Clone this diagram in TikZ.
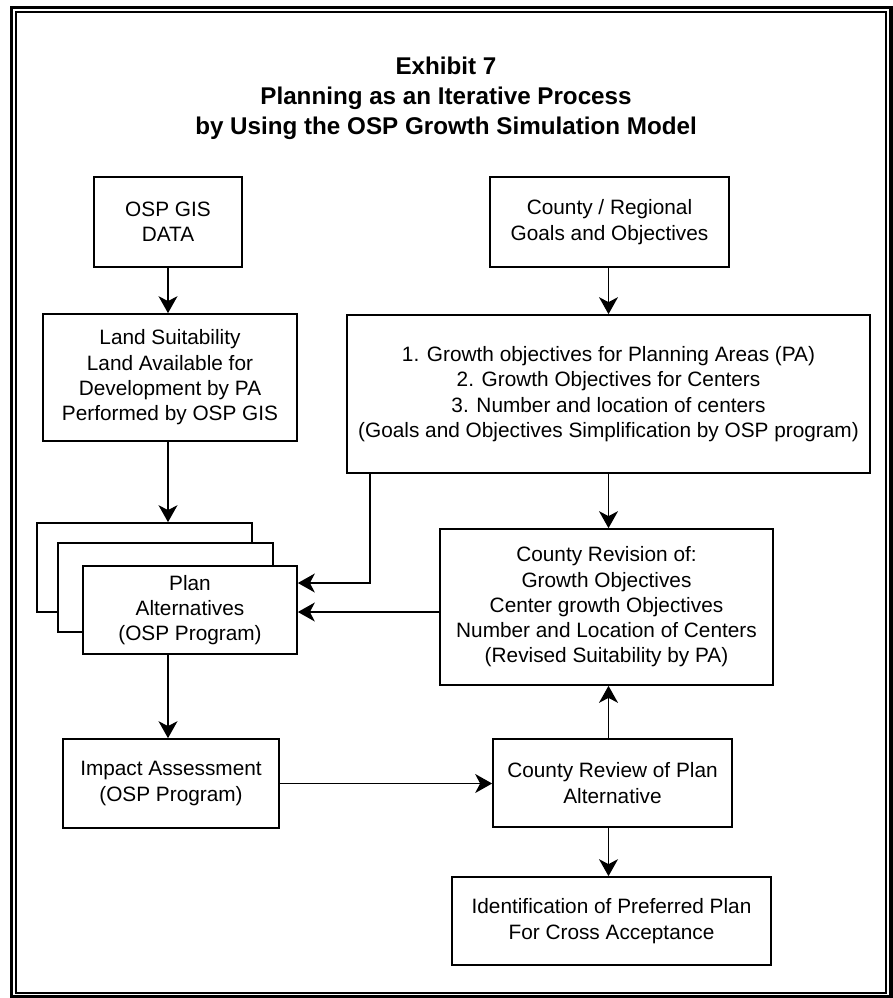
\documentclass[tikz,border=0pt]{standalone}
\usepackage{fontspec}
\setmainfont{Liberation Sans}
\usetikzlibrary{arrows.meta,calc}
\begin{document}
\begin{tikzpicture}[x=1pt,y=-1pt,
  bx/.style={draw, line width=1.7pt, fill=white, align=center, inner sep=0pt,
    font=\fontsize{20.8}{25.3}\selectfont},
  arr/.style={line width=1.5pt, -{Stealth[length=17pt,width=19pt,inset=5pt]}},
  ln/.style={line width=1.5pt}]
\useasboundingbox (0,0) rectangle (893,998);
% frame
\draw[line width=3.3pt] (11.7,7.2) rectangle (891,996.2);
\draw[line width=2pt] (16.2,12.2) rectangle (885.8,992.5);
% title
\node[align=center, font=\fontsize{24.2}{30}\bfseries\selectfont] (title) at (446,98)
  {Exhibit 7\\Planning as an Iterative Process\\by Using the OSP Growth Simulation Model};
% boxes
\node[bx, minimum width=148pt, minimum height=90pt] (gis) at (168,222) {OSP GIS\\DATA};
\node[bx, minimum width=239pt, minimum height=90pt] (county) at (609.5,222) {County / Regional\\Goals and Objectives};
\node[bx, minimum width=254pt, minimum height=127pt] (land) at (170,377.5)
  {Land Suitability\\Land Available for\\Development by PA\\Performed by OSP GIS};
\node[bx, minimum width=523pt, minimum height=158pt] (goals) at (608.5,394)
  {1. Growth objectives for Planning Areas (PA)\\2. Growth Objectives for Centers\\3. Number and location of centers\\(Goals and Objectives Simplification by OSP program)};
\node[bx, minimum width=215pt, minimum height=89pt] (back) at (144.5,567.5) {};
\node[bx, minimum width=215pt, minimum height=89pt] (mid) at (165.5,587.5) {};
\node[bx, minimum width=214pt, minimum height=88pt] (plan) at (190,610) {Plan\\Alternatives\\(OSP Program)};
\node[bx, minimum width=333pt, minimum height=156pt] (revision) at (606.5,607)
  {County Revision of:\\Growth Objectives\\Center growth Objectives\\Number and Location of Centers\\(Revised Suitability by PA)};
\node[bx, minimum width=216pt, minimum height=89pt] (impact) at (171,783.5) {Impact Assessment\\(OSP Program)};
\node[bx, minimum width=239pt, minimum height=88pt] (review) at (612.5,783) {County Review of Plan\\Alternative};
\node[bx, minimum width=319pt, minimum height=88pt] (ident) at (611.5,921)
  {Identification of Preferred Plan\\For Cross Acceptance};
% connectors
\draw[arr] (gis.south) -- (gis.south |- land.north);
\draw[arr] (county.south -| goals.south) -- (goals.north);
\draw[arr] (land.south -| gis.south) -- (gis.south |- back.north);
\draw[arr] ([xshift=24pt]goals.south west) |- ([yshift=27pt]plan.east);
\draw[arr] (goals.south) -- (goals.south |- revision.north);
\draw[arr] ([yshift=-5pt]revision.west) -- ([yshift=-5pt]revision.west -| plan.east);
\draw[arr] (plan.south -| gis.south) -- (gis.south |- impact.north);
\draw[arr] (impact.east) -- (impact.east -| review.west);
\draw[arr] (review.north -| goals.south) -- (goals.south |- revision.south);
\draw[arr] (review.south -| goals.south) -- (goals.south |- ident.north);
\end{tikzpicture}
\end{document}
